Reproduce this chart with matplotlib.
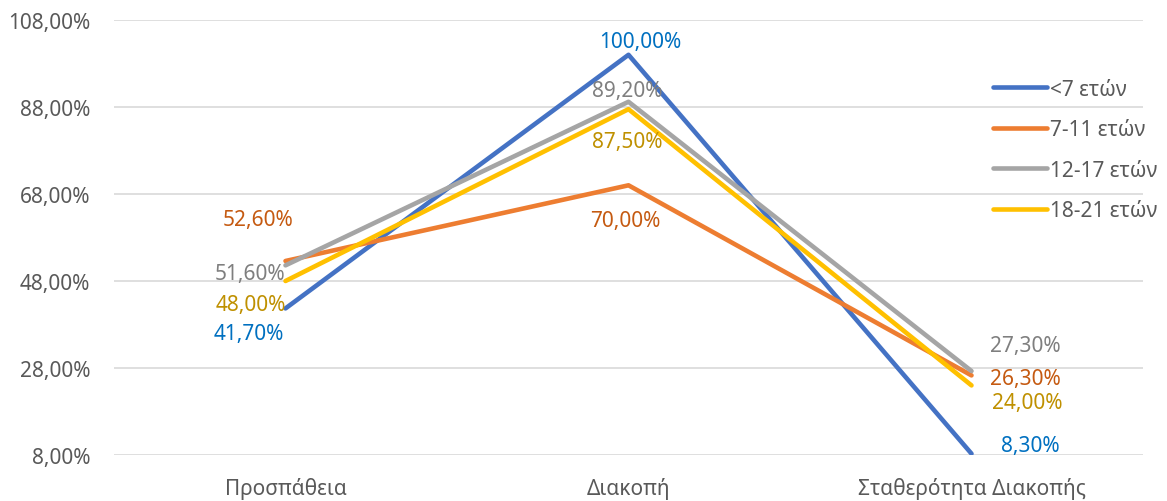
import matplotlib.pyplot as plt
from matplotlib.ticker import FuncFormatter

plt.rcParams['font.family'] = ['Noto Sans', 'DejaVu Sans']

# Δεδομένα
kathgories = ['Προσπάθεια', 'Διακοπή', 'Σταθερότητα Διακοπής']
omades = ['<7 ετών', '7-11 ετών', '12-17 ετών', '18-21 ετών']
kato_7 = [41.7, 100.0, 8.3]
apo_7_11 = [52.6, 70.0, 26.3]
apo_12_17 = [51.6, 89.2, 27.3]
apo_18_21 = [48.0, 87.5, 24.0]

xromata = ['#4472C4', '#ED7D31', '#A5A5A5', '#FFC000']
xromata_etiketwn = ['#0070C0', '#C55A11', '#7F7F7F', '#BF9000']
# μετατοπίσεις ετικετών σε pixels (ανά σειρά, ανά κατηγορία)
metatopiseis = [
    [(-37, -25), (12, 13), (59, 8)],
    [(-27, 41), (-3, -35), (54, -3)],
    [(-35, -8), (-1, 11), (54, 26)],
    [(-35, -24), (-1, -32), (56, -17)],
]

fig = plt.figure(figsize=(11.67, 5.02), dpi=100)
ax = fig.add_axes([114 / 1167, 46 / 502, 1029 / 1167, 435 / 502])

x = range(len(kathgories))
for seira, onoma, xr, xe, met in zip([kato_7, apo_7_11, apo_12_17, apo_18_21],
                                      omades, xromata, xromata_etiketwn, metatopiseis):
    ax.plot(x, seira, color=xr, linewidth=3.3, label=onoma, solid_capstyle='round')
    for xi, v, (dx, dy) in zip(x, seira, met):
        ax.annotate(f'{v:.2f}%'.replace('.', ','), (xi, v), xytext=(dx, dy),
                    textcoords='offset pixels', ha='center', va='center',
                    color=xe, fontsize=15)

ax.set_xlim(-0.5, 2.5)
ax.set_ylim(8, 108)
ax.set_yticks(range(8, 109, 20))
ax.yaxis.set_major_formatter(FuncFormatter(lambda v, p: f'{v:.2f}%'.replace('.', ',')))
ax.set_xticks(list(x))
ax.set_xticklabels(kathgories)
ax.grid(axis='y', color='#D9D9D9', linewidth=1.2)
ax.set_axisbelow(True)
for s in ax.spines.values():
    s.set_visible(False)
ax.tick_params(length=0, labelsize=15, colors='#595959')
ax.tick_params(axis='x', pad=16)
ax.tick_params(axis='y', pad=17)

ax.legend(loc='upper left', bbox_to_anchor=(974 / 1167, 441 / 502),
          bbox_transform=fig.transFigure, frameon=False, fontsize=15,
          handlelength=2.6, handletextpad=0.15, labelspacing=0.93, labelcolor='#595959')

plt.savefig('out.png', dpi=100)
